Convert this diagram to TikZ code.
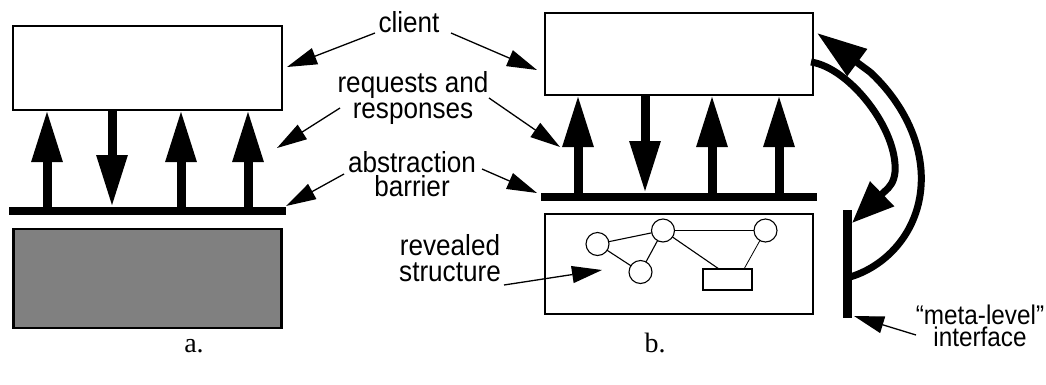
\documentclass[tikz,border=0pt]{standalone}
\usepackage{fontspec}
\setmainfont{Liberation Serif}
\newfontfamily\labfont[FakeStretch=0.9]{Liberation Sans}
\usetikzlibrary{arrows.meta}
\definecolor{shade}{RGB}{128,128,128}
\begin{document}
\begin{tikzpicture}[x=1pt,y=-1pt,
  panel/.style={draw, line width=1.6pt, inner sep=0pt, outer sep=0pt},
  barrier/.style={fill=black, inner sep=0pt, outer sep=0pt},
  fat/.style={line width=9pt, -{Triangle[length=52pt,width=29pt]}},
  thin/.style={line width=1.3pt, -{Triangle[length=30pt,width=17pt]}},
  curvy/.style={line width=7pt},
  lab/.style={font=\labfont\fontsize{29}{26}\selectfont, align=center, inner sep=0pt, anchor=base},
  smalllab/.style={font=\labfont\fontsize{27}{22}\selectfont, align=center, inner sep=0pt, anchor=base},
  capt/.style={font=\fontsize{28}{30}\selectfont, inner sep=0pt, anchor=base},
  ball/.style={draw, circle, line width=1.1pt, minimum size=23pt, inner sep=0pt, outer sep=0pt},
  link/.style={line width=1.1pt},
]
\useasboundingbox (0,0) rectangle (1046,384);

% ---------- panel a ----------
\node[panel, minimum width=269pt, minimum height=84pt] (clientA) at (147.5,68) {};
\node[barrier, minimum width=277pt, minimum height=8pt] (barA) at (147.5,211) {};
\node[panel, fill=shade, line width=2.4pt, minimum width=268pt, minimum height=99pt] (implA) at (147.5,278.5) {};
\foreach \n/\x in {1/47,2/112,3/181,4/248} \coordinate (xa\n) at (\x,0);
\draw[fat] (barA.north -| xa1) -- (clientA.south -| xa1);
\draw[fat] (clientA.south -| xa2) -- (barA.north -| xa2);
\draw[fat] (barA.north -| xa3) -- (clientA.south -| xa3);
\draw[fat] (barA.north -| xa4) -- (clientA.south -| xa4);
\node[capt] (capA) at (194,352) {a.};

% ---------- panel b ----------
\node[panel, minimum width=268pt, minimum height=82pt] (clientB) at (679,54) {};
\node[barrier, minimum width=276pt, minimum height=8pt] (barB) at (679,197) {};
\node[panel, minimum width=268pt, minimum height=100pt] (implB) at (679,264) {};
\foreach \n/\x in {1/578,2/645,3/712,4/779} \coordinate (xb\n) at (\x,0);
\draw[fat] (barB.north -| xb1) -- (clientB.south -| xb1);
\draw[fat] (clientB.south -| xb2) -- (barB.north -| xb2);
\draw[fat] (barB.north -| xb3) -- (clientB.south -| xb3);
\draw[fat] (barB.north -| xb4) -- (clientB.south -| xb4);
\node[capt] (capB) at (655,352) {b.};

% revealed structure
\node[ball] (s1) at (597.5,244) {};
\node[ball] (s2) at (663,230.5) {};
\node[ball] (s3) at (640.5,272) {};
\node[ball] (s4) at (765.5,230.5) {};
\node[draw, line width=1.3pt, minimum width=49pt, minimum height=21pt, inner sep=0pt, outer sep=0pt] (sbox) at (727.5,279.5) {};
\coordinate (sx1) at (719,0);
\coordinate (sx2) at (744,0);
\draw[link] (s1) -- (s2);
\draw[link] (s1) -- (s3);
\draw[link] (s3) -- (s2);
\draw[link] (s2) -- (s4);
\draw[link] (s2) -- (sbox.north -| sx1);
\draw[line width=0.8pt] (s4) -- (sbox.north -| sx2);

% meta-level interface
\node[barrier, minimum width=9pt, minimum height=108pt] (meta) at (847.5,264) {};
\coordinate (mstart) at (850,277);
\draw[curvy, -{Triangle[length=42pt,width=33pt]}] (811,62) .. controls (850,68) and (898,130) .. (895,172)
   .. controls (894,182) and (890,187) .. (884,192) -- ([yshift=-13pt]meta.north east);
\draw[curvy, -{Triangle[length=50pt,width=32pt]}] (mstart) .. controls (890,265) and (925,225) .. (921,170)
   .. controls (918,130) and (895,95) .. (870,72) -- ([xshift=4pt,yshift=-20pt]clientB.north east);

% ---------- labels ----------
\node[lab] (lclient) at (409,32) {client};
\node[lab] (lreq) at (413,118) {requests and\\responses};
\node[lab] (labs) at (412,196) {abstraction\\[-2pt]barrier\hspace{24pt}};
\node[lab] (lrev) at (450,281) {revealed\\structure};
\node[smalllab] (lmeta) at (980,346) {“meta-level”\\interface};

\coordinate (t1) at (375,33);   \coordinate (h1) at (287,67);
\coordinate (t2) at (451,33);   \coordinate (h2) at (537,70);
\coordinate (t3) at (340,108);  \coordinate (h3) at (277,148);
\coordinate (t4) at (489,98);   \coordinate (h4) at (560,147);
\coordinate (t5) at (344,174);  \coordinate (h5) at (286,206);
\coordinate (t6) at (482,169);  \coordinate (h6) at (537,193);
\coordinate (t7) at (504,285);  \coordinate (h7) at (602,270);
\coordinate (t8) at (916,335);  \coordinate (h8) at (854,316);
\foreach \i in {1,...,8} \draw[thin] (t\i) -- (h\i);
\end{tikzpicture}
\end{document}
